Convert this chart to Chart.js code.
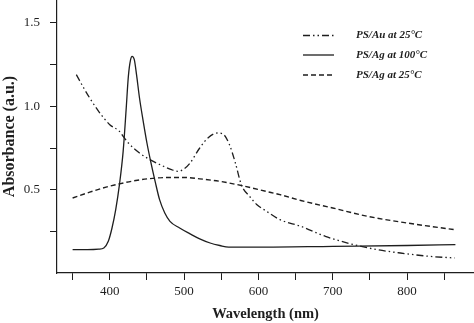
<!DOCTYPE html>
<html>
<head>
<meta charset="utf-8">
<script src="https://cdn.jsdelivr.net/npm/chart.js@4.4.1/dist/chart.umd.min.js"></script>
<style>
  html, body { margin: 0; padding: 0; background: #fff; }
  #wrap { width: 474px; height: 323px; }
</style>
</head>
<body>
<div id="wrap"><canvas id="absChart"></canvas></div>
<script>
// Series: wavelength (nm) and absorbance (a.u.)
const seriesNames = ['PS/Au at 25°C', 'PS/Ag at 100°C', 'PS/Ag at 25°C'];

const auWave = [355, 365, 373, 385, 400, 413, 418, 425, 440, 454, 470, 483, 492, 500, 508, 521, 532, 545, 552, 561, 569, 577, 588, 598, 611, 629, 657, 690, 724, 760, 791, 830, 864];
const auAbs  = [1.19, 1.11, 1.05, 0.97, 0.89, 0.85, 0.82, 0.78, 0.72, 0.68, 0.645, 0.62, 0.61, 0.625, 0.66, 0.75, 0.81, 0.84, 0.835, 0.77, 0.66, 0.53, 0.46, 0.41, 0.37, 0.32, 0.28, 0.22, 0.175, 0.14, 0.12, 0.10, 0.09];

const ag100Wave = [350, 370, 385, 392, 398, 403, 408, 413, 418, 422, 425, 428, 430, 433, 436, 440, 445, 450, 455, 461, 467, 474, 481, 494, 508, 521, 535, 548, 560, 600, 700, 800, 865];
const ag100Abs  = [0.14, 0.14, 0.143, 0.15, 0.19, 0.27, 0.38, 0.53, 0.73, 0.98, 1.18, 1.28, 1.30, 1.28, 1.19, 1.05, 0.91, 0.78, 0.67, 0.55, 0.44, 0.36, 0.31, 0.27, 0.235, 0.205, 0.18, 0.165, 0.155, 0.155, 0.16, 0.165, 0.17];

const ag25Wave = [350, 373, 395, 413, 435, 458, 480, 500, 521, 548, 580, 610, 629, 657, 700, 747, 800, 864];
const ag25Abs  = [0.45, 0.485, 0.515, 0.535, 0.555, 0.568, 0.573, 0.573, 0.565, 0.55, 0.522, 0.49, 0.47, 0.435, 0.39, 0.34, 0.30, 0.26];

// Axis ticks
const xTicks = [350, 400, 450, 500, 550, 600, 650, 700, 750, 800, 850];
const xTickLabels = ['', '400', '', '500', '', '600', '', '700', '', '800', ''];
const yTicks = [0.25, 0.5, 0.75, 1.0, 1.25, 1.5];
const yTickLabels = ['', '0.5', '', '1.0', '', '1.5'];

const X_MIN = 329, X_MAX = 890;
const Y_MIN = 0, Y_MAX = 1.638;

const ink = '#1e1e1e';
const serif = '"Liberation Serif", "DejaVu Serif", serif';

const toPoints = (xs, ys) => xs.map((x, i) => ({ x: x, y: ys[i] }));

// legend drawn inside the plot, top right
const legendPlugin = {
  id: 'innerLegend',
  afterDraw(chart) {
    const ctx = chart.ctx;
    const rows = [35.5, 55, 75];
    ctx.save();
    chart.data.datasets.forEach((ds, i) => {
      const y = rows[i];
      ctx.strokeStyle = ds.borderColor;
      ctx.lineWidth = ds.borderWidth;
      ctx.setLineDash(ds.borderDash || []);
      ctx.beginPath();
      ctx.moveTo(303, y);
      ctx.lineTo(334, y);
      ctx.stroke();
      ctx.setLineDash([]);
      ctx.fillStyle = ink;
      ctx.font = 'italic bold 11px ' + serif;
      ctx.textBaseline = 'middle';
      ctx.textAlign = 'left';
      ctx.fillText(ds.label, 356, y);
    });
    ctx.restore();
  }
};

// keep the plot area flush with the canvas edges
const noPad = (scale) => {
  scale.paddingTop = 0;
  scale.paddingBottom = 0;
  scale.paddingLeft = 0;
  scale.paddingRight = 0;
};

new Chart(document.getElementById('absChart'), {
  type: 'line',
  data: {
    datasets: [
      {
        label: seriesNames[0],
        data: toPoints(auWave, auAbs),
        borderColor: ink,
        borderWidth: 1.3,
        borderDash: [7, 3, 1.5, 3, 1.5, 3],
        pointRadius: 0,
        cubicInterpolationMode: 'monotone',
        fill: false
      },
      {
        label: seriesNames[1],
        data: toPoints(ag100Wave, ag100Abs),
        borderColor: ink,
        borderWidth: 1.3,
        pointRadius: 0,
        cubicInterpolationMode: 'monotone',
        fill: false
      },
      {
        label: seriesNames[2],
        data: toPoints(ag25Wave, ag25Abs),
        borderColor: ink,
        borderWidth: 1.4,
        borderDash: [5, 3],
        pointRadius: 0,
        cubicInterpolationMode: 'monotone',
        fill: false
      }
    ]
  },
  options: {
    responsive: true,
    maintainAspectRatio: false,
    animation: false,
    layout: { padding: 0 },
    plugins: {
      legend: { display: false },
      tooltip: { enabled: false }
    },
    scales: {
      x: {
        type: 'linear',
        min: X_MIN,
        max: X_MAX,
        afterBuildTicks: (scale) => { scale.ticks = xTicks.map(v => ({ value: v })); },
        afterFit: (scale) => { scale.height = 50; noPad(scale); },
        grid: { display: true, drawOnChartArea: false, drawTicks: true, tickLength: 7, color: ink, lineWidth: 1 },
        border: { display: true, color: ink, width: 1.2 },
        ticks: {
          color: ink,
          padding: 4,
          maxRotation: 0,
          autoSkip: false,
          font: { family: serif, size: 13 },
          callback: (v) => xTickLabels[xTicks.indexOf(v)]
        },
        title: {
          display: true,
          text: 'Wavelength (nm)',
          color: ink,
          padding: { top: 0, bottom: 0 },
          font: { family: serif, size: 14.5, weight: 'bold' }
        }
      },
      y: {
        min: Y_MIN,
        max: Y_MAX,
        afterBuildTicks: (scale) => { scale.ticks = yTicks.map(v => ({ value: v })); },
        afterFit: (scale) => { scale.width = 57; noPad(scale); },
        grid: { display: true, drawOnChartArea: false, drawTicks: true, tickLength: 7, color: ink, lineWidth: 1 },
        border: { display: true, color: ink, width: 1.2 },
        ticks: {
          color: ink,
          padding: 10,
          autoSkip: false,
          font: { family: serif, size: 13 },
          callback: (v) => yTickLabels[yTicks.indexOf(v)]
        },
        title: {
          display: true,
          text: 'Absorbance (a.u.)',
          color: ink,
          padding: { top: 0, bottom: 0 },
          font: { family: serif, size: 16, weight: 'bold' }
        }
      }
    }
  },
  plugins: [legendPlugin]
});
</script>
</body>
</html>
